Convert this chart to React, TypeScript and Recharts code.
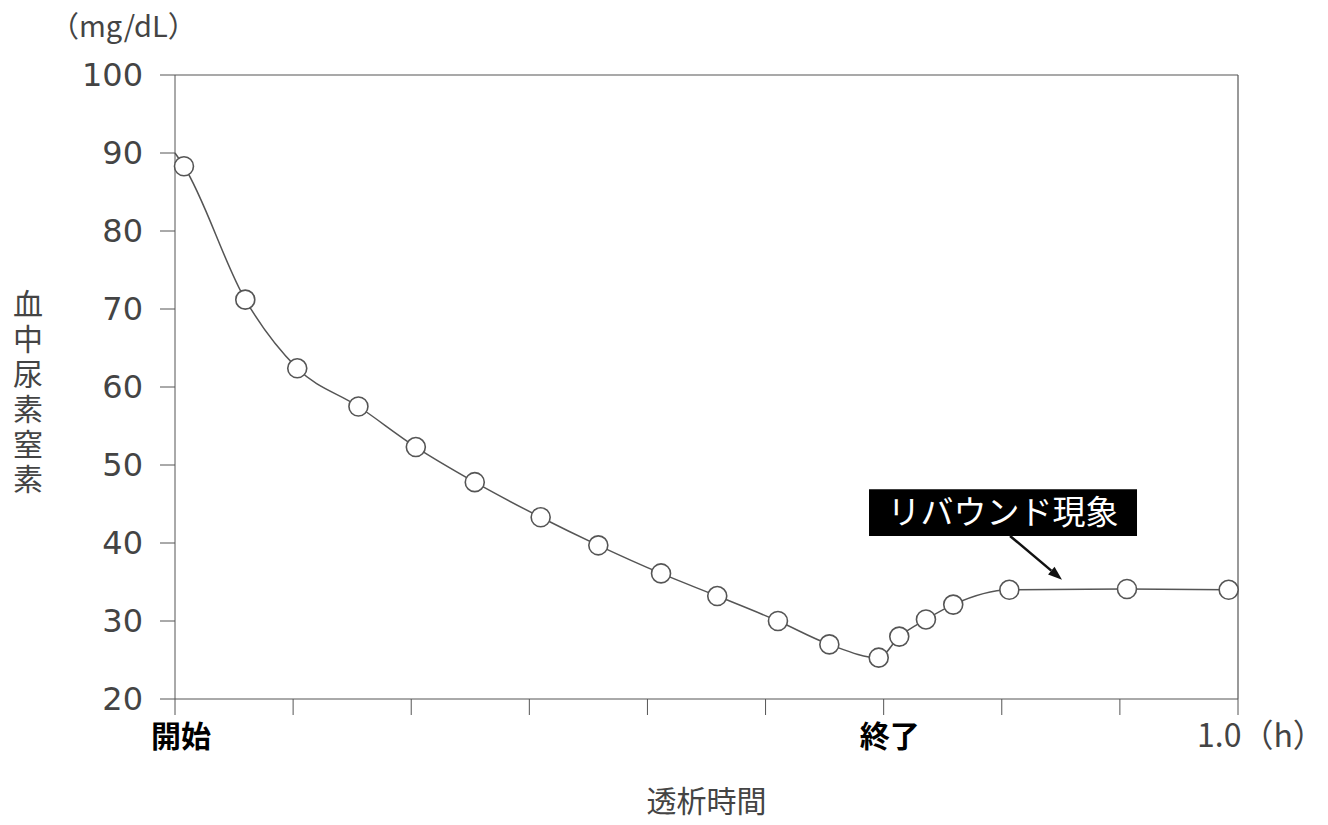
import { LineChart, Line, XAxis, YAxis, ReferenceLine, ReferenceArea } from 'recharts'

// time axis in tick steps (9 steps = 1.0 h), value in mg/dL
const startTime = [0]
const startValue = [90]
const times = [0.076, 0.595, 1.035, 1.553, 2.039, 2.538, 3.096, 3.584, 4.115, 4.591, 5.105, 5.54, 5.958, 6.132, 6.358, 6.589, 7.064, 8.06, 8.921]
const bun = [88.3, 71.2, 62.4, 57.5, 52.3, 47.8, 43.3, 39.7, 36.1, 33.2, 30.0, 27.0, 25.3, 28.0, 30.2, 32.1, 34.0, 34.1, 34.0]

const xTicks = [0, 1, 2, 3, 4, 5, 6, 7, 8, 9]
const yTicks = [20, 30, 40, 50, 60, 70, 80, 90, 100]
const xTickLabels: Record<number, string> = { 0: '開始', 6: '終了', 9: '1.0（h）' }

const yUnit = '（mg/dL）'
const yTitle = '血中尿素窒素'
const xTitle = '透析時間'
const note = 'リバウンド現象'

const data = [
  ...startTime.map((t, i) => ({ t, v: startValue[i], marker: false })),
  ...times.map((t, i) => ({ t, v: bun[i], marker: true })),
]

const FONT = '"Noto Sans CJK JP", "Noto Sans", sans-serif'
const NUM_FONT = '"DejaVu Sans", sans-serif'
const INK = '#555'

const XTick = (props: any) => {
  const { x, y, payload } = props
  const label = xTickLabels[payload.value]
  if (!label) return null
  if (payload.value === 9) {
    return (
      <text x={x - 41} y={y} dy={24} fontSize={32} fill="#444" fontFamily={FONT} textAnchor="start">
        {label}
      </text>
    )
  }
  return (
    <text x={x + 6} y={y} dy={24} fontSize={30} fontWeight="bold" fill="#000" fontFamily={FONT} textAnchor="middle">
      {label}
    </text>
  )
}

const YTitle = (props: any) => {
  const vb = props.viewBox
  return (
    <text
      x={vb.x + 28}
      y={vb.y + 214}
      fontSize={30}
      fill="#444"
      fontFamily={FONT}
      letterSpacing={5}
      style={{ writingMode: 'vertical-rl' }}
    >
      {yTitle}
    </text>
  )
}

const Dot = (props: any) => {
  const { cx, cy, payload, index } = props
  if (!payload.marker) return <g key={index} />
  return <circle key={index} cx={cx} cy={cy} r={9.5} fill="#fff" stroke={INK} strokeWidth={1.6} />
}

const Arrow = (props: any) => {
  const { x1, y1, x2, y2 } = props
  const ang = Math.atan2(y2 - y1, x2 - x1)
  const len = 14
  const w = 5
  const bx = x2 - len * Math.cos(ang)
  const by = y2 - len * Math.sin(ang)
  const px = -Math.sin(ang) * w
  const py = Math.cos(ang) * w
  return (
    <g>
      <line x1={x1} y1={y1} x2={bx} y2={by} stroke="#111" strokeWidth={2.5} />
      <polygon points={`${x2},${y2} ${bx + px},${by + py} ${bx - px},${by - py}`} fill="#111" />
    </g>
  )
}

export default function App() {
  return (
    <div style={{ position: 'fixed', left: 0, top: 0, width: 1328, height: 825, background: '#fff', fontFamily: FONT }}>
      <div style={{ position: 'absolute', left: 50, top: 3, fontSize: 29, color: '#444', lineHeight: '42px' }}>{yUnit}</div>
      <LineChart width={1328} height={825} data={data} margin={{ top: 75, right: 90, left: 0, bottom: 4 }}>
        <XAxis
          dataKey="t"
          type="number"
          domain={[0, 9]}
          ticks={xTicks}
          interval={0}
          tickSize={16}
          tickMargin={8}
          height={122}
          stroke={INK}
          tick={<XTick />}
          label={{ value: xTitle, position: 'insideBottom', offset: 9, fontSize: 30, fill: '#444', fontFamily: FONT }}
        />
        <YAxis
          dataKey="v"
          type="number"
          domain={[20, 100]}
          ticks={yTicks}
          interval={0}
          width={175}
          tickSize={15}
          tickMargin={17}
          stroke={INK}
          tick={{ fontSize: 32, fill: '#444', fontFamily: NUM_FONT }}
          label={<YTitle />}
        />
        <ReferenceLine y={100} stroke={INK} strokeWidth={1.2} />
        <ReferenceLine x={9} stroke={INK} strokeWidth={1.2} />
        <Line
          type="monotone"
          dataKey="v"
          stroke={INK}
          strokeWidth={1.5}
          dot={<Dot />}
          activeDot={false}
          isAnimationActive={false}
        />
        <ReferenceArea
          x1={5.876}
          x2={8.145}
          y1={40.9}
          y2={46.9}
          fill="#000"
          fillOpacity={1}
          stroke="none"
          label={{ value: note, position: 'center', fill: '#fff', fontSize: 33, fontFamily: FONT }}
        />
        <ReferenceLine
          segment={[
            { x: 7.07, y: 40.9 },
            { x: 7.51, y: 35.3 },
          ]}
          shape={<Arrow />}
        />
      </LineChart>
    </div>
  )
}
